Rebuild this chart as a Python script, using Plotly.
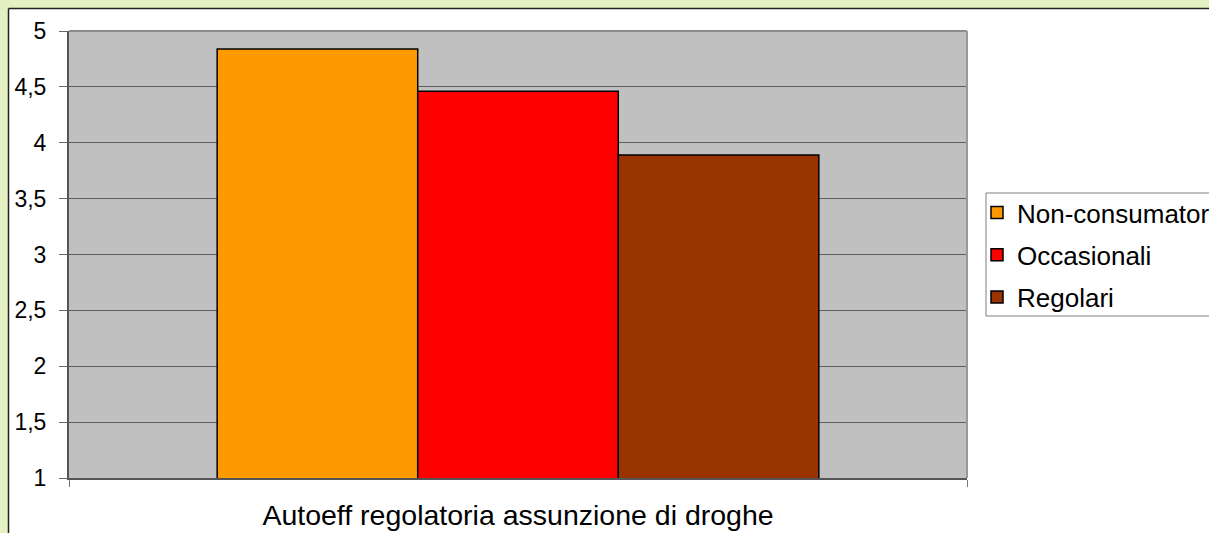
import plotly.graph_objects as go

# Data
category = ["Autoeff regolatoria assunzione di droghe"]
series_names = ["Non-consumatori", "Occasionali", "Regolari"]
series_values = [4.84, 4.46, 3.89]
series_colors = ["#FF9900", "#FF0000", "#993300"]

tick_values = [1, 1.5, 2, 2.5, 3, 3.5, 4, 4.5, 5]
tick_labels = ["1", "1,5", "2", "2,5", "3", "3,5", "4", "4,5", "5"]

W, H = 1209, 533
L, R, T, B = 69, 967, 31, 478  # plot area in pixels

FONT = "Liberation Sans, Arial, sans-serif"

fig = go.Figure()
for name, val, col in zip(series_names, series_values, series_colors):
    fig.add_trace(go.Bar(
        x=category, y=[val], name=name, legendgroup=name,
        marker=dict(color=col, line=dict(color="#000000", width=1.5)),
    ))


def px_x(p):
    return (p - L) / (R - L)


def px_y(p):
    return (B - p) / (B - T)


shapes = [
    # light green frame strips on top and left
    dict(type="rect", xref="paper", yref="paper",
         x0=px_x(0), x1=px_x(W + 5), y0=px_y(8), y1=px_y(-2),
         fillcolor="#E4F0C1", line=dict(width=0), layer="below"),
    dict(type="rect", xref="paper", yref="paper",
         x0=px_x(-2), x1=px_x(8), y0=px_y(H + 2), y1=px_y(0),
         fillcolor="#E4F0C1", line=dict(width=0), layer="below"),
    dict(type="line", xref="paper", yref="paper",
         x0=px_x(8.5), x1=px_x(W + 5), y0=px_y(8.5), y1=px_y(8.5),
         line=dict(color="#222222", width=1.5)),
    dict(type="line", xref="paper", yref="paper",
         x0=px_x(8.5), x1=px_x(8.5), y0=px_y(8.5), y1=px_y(H + 5),
         line=dict(color="#222222", width=1.5)),
    # plot-area top and right borders
    dict(type="line", xref="x domain", yref="y domain",
         x0=0, x1=1, y0=1, y1=1, line=dict(color="#8C8C8C", width=2)),
    dict(type="line", xref="x domain", yref="y domain",
         x0=1, x1=1, y0=0, y1=1, line=dict(color="#999999", width=2)),
    # legend frame
    dict(type="rect", xref="paper", yref="paper",
         x0=px_x(986), x1=px_x(W + 10), y0=px_y(316), y1=px_y(193),
         line=dict(color="#808080", width=1), fillcolor="rgba(0,0,0,0)"),
]

fig.update_layout(
    width=W, height=H,
    margin=dict(l=L, r=W - R, t=T, b=H - B, autoexpand=False),
    paper_bgcolor="#FFFFFF",
    plot_bgcolor="#C0C0C0",
    barmode="group",
    bargap=0.33,
    bargroupgap=0,
    font=dict(family=FONT, color="#000000"),
    showlegend=True,
    legend=dict(
        x=px_x(977), xanchor="left",
        y=px_y(189), yanchor="top",
        font=dict(family=FONT, size=26, color="#000000"),
        bgcolor="rgba(0,0,0,0)", borderwidth=0,
        tracegroupgap=5.5, traceorder="grouped",
    ),
    shapes=shapes,
    xaxis=dict(
        type="category",
        showgrid=False,
        showline=True, linecolor="#555555", linewidth=2,
        ticks="outside", tickson="boundaries", ticklen=7, tickcolor="#777777",
        tickfont=dict(family=FONT, size=28.5, color="#000000"),
        ticklabelstandoff=11,
        fixedrange=True,
    ),
    yaxis=dict(
        range=[1, 5],
        tickvals=tick_values, ticktext=tick_labels,
        showgrid=True, gridcolor="#5E5E5E", gridwidth=1,
        showline=True, linecolor="#555555", linewidth=2,
        ticks="outside", ticklen=8, tickcolor="#666666",
        tickfont=dict(family=FONT, size=23, color="#000000"),
        ticklabelstandoff=8,
        zeroline=False,
        fixedrange=True,
    ),
)

fig.write_html("out.html")
